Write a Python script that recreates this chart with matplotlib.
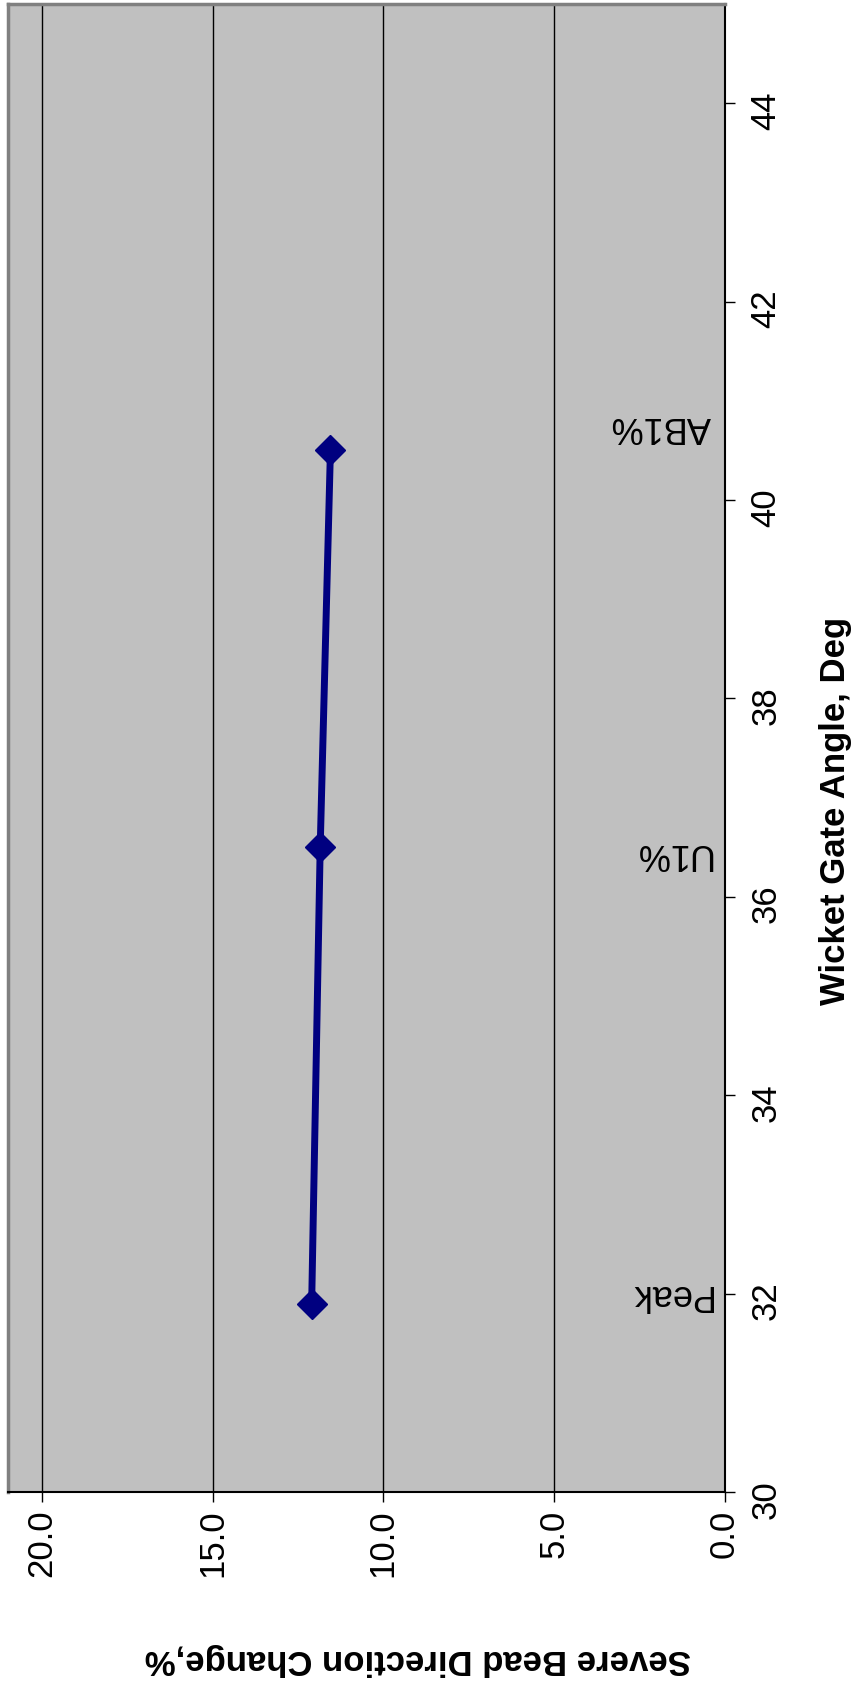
import matplotlib.pyplot as plt

# chart values (the chart is drawn turned on its side)
angle = [31.9, 36.5, 40.5]           # Wicket Gate Angle, Deg
bead_change = [12.1, 11.85, 11.55]   # Severe Bead Direction Change, %
point_names = ["Peak", "U1%", "AB1%"]
name_angle = [32.0, 36.45, 40.75]
name_change = 0.4

angle_ticks = [30, 32, 34, 36, 38, 40, 42, 44]
change_ticks = [0, 5, 10, 15, 20]

plt.rcParams['font.family'] = ['Liberation Sans', 'DejaVu Sans']

fig = plt.figure(figsize=(8.57, 16.9), dpi=100)
ax = fig.add_axes([8 / 857, 197 / 1690, 716.5 / 857, 1488 / 1690])
ax.set_facecolor("#C0C0C0")

ax.plot(bead_change, angle, color="#000080", lw=5, marker="D", ms=15,
        zorder=3)

for name, na in zip(point_names, name_angle):
    ax.text(name_change, na, name, rotation=180, ha="right", va="center",
            fontsize=26, color="black")

ax.set_xlim(21, 0)
ax.set_ylim(30, 45)
ax.set_xticks(change_ticks)
ax.set_xticklabels(["%.1f" % v for v in change_ticks])
ax.set_yticks(angle_ticks)
ax.yaxis.tick_right()

ax.grid(axis="x", color="black", lw=1)
ax.set_axisbelow(True)

ax.tick_params(axis="x", labelrotation=90, labelsize=25, length=7,
               width=1, pad=5)
ax.tick_params(axis="y", labelrotation=90, labelsize=25, length=7,
               width=1, pad=11)

ax.spines["left"].set_color("#808080")
ax.spines["left"].set_linewidth(2.5)
ax.spines["top"].set_color("#808080")
ax.spines["top"].set_linewidth(2.5)
ax.spines["right"].set_color("black")
ax.spines["right"].set_linewidth(1.5)
ax.spines["bottom"].set_color("black")
ax.spines["bottom"].set_linewidth(1.5)

fig.text(835 / 857, 1 - 811 / 1690, "Wicket Gate Angle, Deg", rotation=90,
         ha="center", va="center", fontsize=25, fontweight="bold")
fig.text(418 / 857, 1 - 1660 / 1690, "Severe Bead Direction Change,%",
         rotation=180, ha="center", va="center", fontsize=25,
         fontweight="bold")

fig.savefig("out.png", dpi=100)
